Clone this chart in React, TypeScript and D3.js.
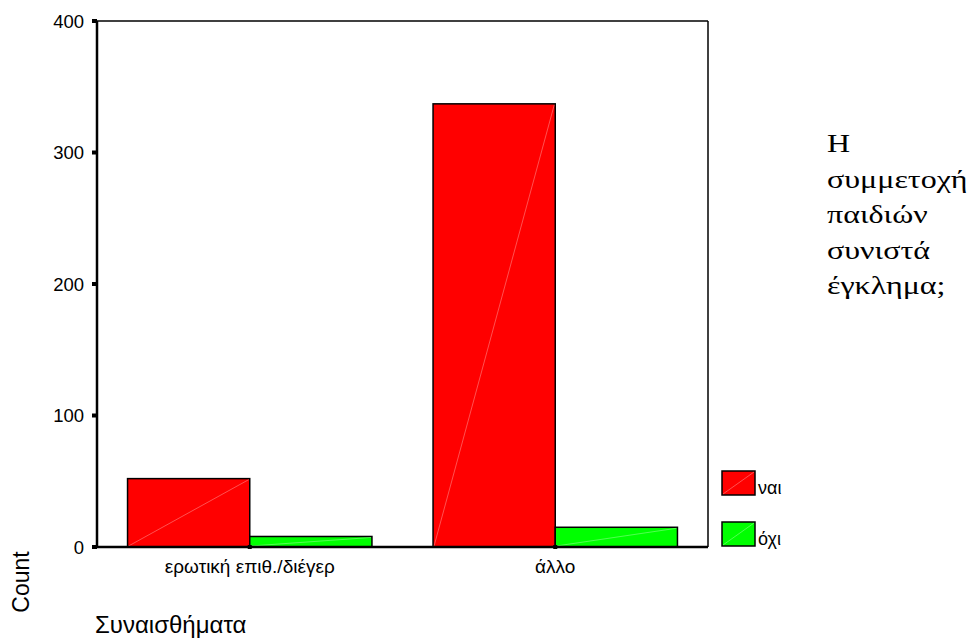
import React from "react";
import * as d3 from "d3";

const categories = ["ερωτική επιθ./διέγερ", "άλλο"];
const seriesNames = ["ναι", "όχι"];
const valuesNai = [52, 337];
const valuesOxi = [8, 15];
const yTicks = [0, 100, 200, 300, 400];
const colors = ["#ff0000", "#00ff00"];
const legendTitleLines = ["Η", "συμμετοχή", "παιδιών", "συνιστά", "έγκλημα;"];

export default function App() {
  const W = 970, H = 639;
  const left = 97, right = 708, top = 21, bottom = 547;
  const y = d3.scaleLinear().domain([0, 400]).range([bottom, top]);
  const x0 = d3.scaleBand().domain(categories).range([left, right]).paddingInner(0.2).paddingOuter(0.1);
  const x1 = d3.scaleBand().domain(seriesNames).range([0, x0.bandwidth()]);
  const series = [valuesNai, valuesOxi];
  const font = "Liberation Sans, Arial, sans-serif";

  return (
    <svg width={W} height={H} style={{ position: "absolute", left: 0, top: 0, background: "#fff" }}>
      {/* frame */}
      <line x1={left} x2={right} y1={top} y2={top} stroke="#000" strokeWidth={1.5} />
      <line x1={right} x2={right} y1={top} y2={bottom} stroke="#000" strokeWidth={1.5} />
      {/* bars */}
      {categories.map((c, i) =>
        seriesNames.map((s, j) => {
          const bx = (x0(c) as number) + (x1(s) as number);
          const bw = x1.bandwidth();
          const by = y(series[j][i]);
          const bh = bottom - by;
          return (
            <g key={c + s}>
              <rect x={bx} y={by} width={bw} height={bh} fill={colors[j]} stroke="#000" strokeWidth={1.5} />
              <line x1={bx + 1} y1={bottom - 1} x2={bx + bw - 1} y2={by + 1} stroke="rgba(255,255,255,0.45)" strokeWidth={0.7} />
            </g>
          );
        })
      )}
      {/* axes */}
      <line x1={left} x2={left} y1={top} y2={bottom} stroke="#000" strokeWidth={2.5} />
      <line x1={left} x2={right} y1={bottom} y2={bottom} stroke="#000" strokeWidth={2.5} />
      {yTicks.map((t) => (
        <g key={t}>
          <rect x={left - 5} y={y(t) - 2} width={5} height={4} fill="#000" />
          <text x={84} y={y(t) + 6.5} textAnchor="end" fontFamily={font} fontSize={18.5} fill="#000">{t}</text>
        </g>
      ))}
      {categories.map((c) => {
        const cx = (x0(c) as number) + x0.bandwidth() / 2;
        return (
          <g key={c}>
            <rect x={cx - 2} y={bottom - 2} width={4} height={4} fill="#000" />
            <text x={cx} y={573} textAnchor="middle" fontFamily={font} fontSize={19} fill="#000">{c}</text>
          </g>
        );
      })}
      {/* axis titles */}
      <text transform={`translate(29,582) rotate(-90)`} textAnchor="middle" fontFamily={font} fontSize={23} fill="#000">Count</text>
      <text x={95} y={633} fontFamily={font} fontSize={24} fill="#000">Συναισθήματα</text>
      {/* legend */}
      {legendTitleLines.map((l, i) => (
        <text key={l} transform={`translate(827,${152 + i * 35.5}) scale(1.28,1)`} fontFamily="Liberation Serif, Times New Roman, serif" fontSize={25} fill="#000">{l}</text>
      ))}
      {seriesNames.map((s, j) => {
        const ly = 471 + j * 51;
        return (
          <g key={s}>
            <rect x={722} y={ly} width={33} height={24} fill={colors[j]} stroke="#000" strokeWidth={1.5} />
            <line x1={723} y1={ly + 23} x2={754} y2={ly + 1} stroke="rgba(255,255,255,0.45)" strokeWidth={0.7} />
            <text x={758} y={ly + 23} fontFamily={font} fontSize={18} fill="#000">{s}</text>
          </g>
        );
      })}
    </svg>
  );
}
